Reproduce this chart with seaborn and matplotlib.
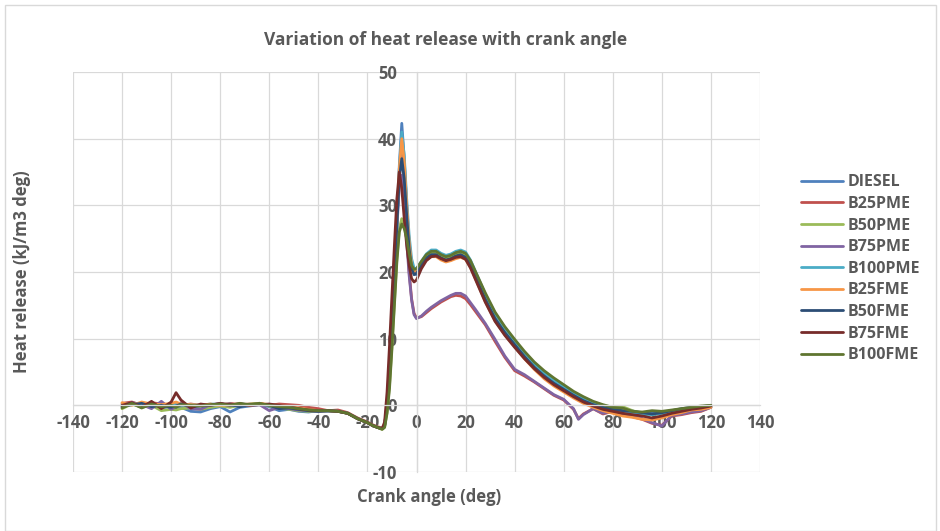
import numpy as np
import pandas as pd
import matplotlib
matplotlib.use('Agg')
import matplotlib.pyplot as plt
import seaborn as sns

# crank angle (deg) - finer steps around the combustion peak
crank_angle = [-120, -116, -112, -108, -104, -100, -98, -96, -92, -88, -84, -80, -76, -72,
               -68, -64, -60, -56, -52, -48, -44, -40, -36, -32, -28, -24,
               -20, -18, -16, -14, -13, -12, -11, -10, -9, -8, -7, -6, -5, -4, -3, -2, -1, 0,
               2, 4, 6, 8, 10, 12, 14, 16, 18, 20, 22, 24,
               28, 32, 36, 40, 44, 48, 52, 56, 60, 64, 66, 68, 72, 76, 80, 84, 88, 92,
               96, 100, 104, 108, 112, 116, 120]

# heat release (kJ/m3 deg)
diesel = [-0.3, 0.2, -0.2, 0.1, -0.4, -0.2, -0.6, -0.3, -0.9, -1.0, -0.5, -0.2, -1.0, -0.3,
          -0.1, 0.1, -0.2, -0.8, -0.6, -0.9, -1.0, -0.8, -0.9, -0.8, -1.2, -2.0,
          -2.6, -3.0, -3.3, -3.5, -3.0, 0.0, 5.5, 12.0, 19.0, 27.0, 36.0, 42.3, 37.0, 30.0, 24.5, 21.0, 19.8, 19.6,
          20.8, 22.0, 22.8, 22.9, 22.5, 22.2, 22.4, 22.8, 23.0, 22.6, 21.3, 19.6,
          16.2, 13.3, 11.2, 9.4, 7.6, 6.0, 4.7, 3.6, 2.6, 1.7, 1.3, 0.9, 0.3, -0.2, -0.5, -0.9, -0.8, -1.6,
          -1.0, -1.2, -1.0, -0.6, -0.5, -0.3, -0.2]
b25pme = [0.3, 0.5, 0.0, 0.4, 0.2, 0.1, 0.3, 0.0, 0.2, 0.0, 0.1, 0.0, 0.3, 0.1,
          0.2, 0.3, 0.0, 0.2, 0.1, 0.0, -0.3, -0.5, -0.8, -0.7, -1.1, -1.9,
          -2.5, -2.9, -3.2, -3.4, -2.9, 0.3, 6.0, 12.5, 19.5, 27.5, 35.0, 39.0, 33.0, 26.0, 20.0, 16.0, 13.8, 13.1,
          13.3, 13.9, 14.5, 15.0, 15.5, 15.9, 16.3, 16.5, 16.4, 16.0, 15.1, 14.1,
          12.1, 9.6, 7.2, 5.2, 4.4, 3.5, 2.5, 1.5, 0.8, -0.6, -2.0, -1.3, -0.5, -1.3, -0.9, -1.3, -1.7, -2.1,
          -2.7, -3.0, -1.6, -1.4, -1.1, -0.9, -0.3]
b50pme = [-0.5, 0.2, -0.3, 0.0, -0.8, -0.6, -0.7, -0.5, -0.4, -0.6, -0.3, -0.1, -0.3, 0.0,
          0.2, 0.3, -0.1, -0.4, -0.6, -0.8, -0.9, -0.9, -0.8, -0.9, -1.2, -2.0,
          -2.6, -3.0, -3.3, -3.6, -3.3, -1.0, 3.0, 9.0, 15.5, 22.0, 26.5, 28.0, 27.0, 25.5, 23.0, 21.0, 20.3, 20.4,
          21.4, 22.4, 22.9, 22.9, 22.4, 22.1, 22.3, 22.7, 22.9, 22.6, 21.5, 19.9,
          16.6, 13.8, 11.6, 9.7, 7.9, 6.3, 5.0, 3.9, 2.9, 1.9, 1.5, 1.1, 0.5, 0.0, -0.3, -0.2, -0.8, -1.2,
          -1.4, -1.2, -0.9, -0.6, -0.4, -0.2, -0.1]
b75pme = [-0.2, 0.4, 0.1, -0.5, 0.6, -0.6, -0.2, 0.4, -0.5, -0.6, 0.1, 0.3, -0.1, 0.3,
          0.0, 0.1, -0.8, -0.3, -0.5, -0.7, -0.8, -0.9, -0.8, -0.9, -1.2, -2.0,
          -2.6, -3.0, -3.3, -3.5, -3.1, 0.0, 5.5, 12.0, 19.0, 26.5, 33.0, 34.5, 30.0, 24.5, 19.5, 15.8, 13.6, 13.0,
          13.4, 14.1, 14.7, 15.2, 15.7, 16.1, 16.5, 16.8, 16.8, 16.4, 15.4, 14.4,
          12.3, 9.9, 7.4, 5.4, 4.6, 3.6, 2.6, 1.6, 0.9, -0.5, -2.1, -1.4, -0.5, -1.2, -0.8, -1.2, -1.6, -2.0,
          -2.6, -3.1, -1.5, -1.3, -1.0, -0.8, -0.3]
b100pme = [0.1, 0.3, 0.0, 0.2, 0.0, 0.1, 0.2, 0.0, 0.1, 0.0, 0.2, 0.1, 0.2, 0.0,
           0.1, 0.2, 0.0, -0.1, -0.3, -0.5, -0.7, -0.8, -0.8, -0.9, -1.2, -2.0,
           -2.6, -3.0, -3.3, -3.5, -3.1, 0.0, 5.5, 12.0, 19.0, 27.0, 35.5, 41.0, 37.5, 31.0, 25.5, 22.0, 20.6, 20.5,
           21.6, 22.7, 23.3, 23.3, 22.8, 22.5, 22.7, 23.1, 23.3, 23.0, 21.8, 20.1,
           16.7, 13.8, 11.6, 9.7, 7.9, 6.2, 4.9, 3.8, 2.8, 1.8, 1.4, 1.0, 0.4, -0.1, -0.4, -0.8, -1.1, -1.3,
           -1.4, -1.2, -0.9, -0.6, -0.4, -0.2, -0.1]
b25fme = [0.4, 0.0, 0.5, 0.2, 0.1, 0.3, 0.5, 0.2, 0.1, 0.0, 0.2, 0.0, 0.1, 0.2,
          0.0, 0.3, 0.1, 0.0, -0.2, -0.4, -0.6, -0.8, -0.8, -0.9, -1.2, -2.0,
          -2.6, -3.0, -3.3, -3.5, -3.0, 0.2, 6.0, 12.5, 19.5, 27.5, 35.5, 40.0, 36.5, 30.0, 24.5, 21.0, 20.0, 20.2,
          21.0, 21.8, 22.3, 22.3, 21.8, 21.5, 21.7, 22.0, 22.2, 21.9, 20.7, 19.0,
          15.6, 12.7, 10.6, 8.8, 7.0, 5.4, 4.0, 2.9, 2.0, 1.1, 0.7, 0.3, -0.3, -0.8, -1.2, -1.6, -1.8, -2.1,
          -2.2, -1.9, -1.4, -1.1, -0.7, -0.6, -0.3]
b50fme = [-0.2, 0.1, 0.3, -0.2, 0.0, -0.3, -0.1, 0.2, -0.2, -0.1, 0.0, 0.2, 0.1, -0.2,
          0.1, 0.2, 0.0, -0.5, -0.4, -0.6, -0.8, -0.9, -0.8, -0.9, -1.2, -2.0,
          -2.6, -3.0, -3.3, -3.5, -3.0, 0.0, 5.5, 12.0, 19.0, 27.0, 34.0, 37.0, 34.0, 28.5, 23.5, 20.5, 19.6, 19.8,
          21.0, 22.1, 22.6, 22.6, 22.1, 21.8, 22.0, 22.4, 22.6, 22.2, 21.0, 19.3,
          15.9, 13.0, 10.9, 9.1, 7.3, 5.7, 4.4, 3.3, 2.4, 1.5, 1.1, 0.7, 0.1, -0.3, -0.6, -0.8, -0.9, -1.1,
          -1.3, -1.1, -0.8, -0.5, -0.3, -0.2, 0.0]
b75fme = [0.0, 0.4, -0.3, 0.6, -0.5, 0.5, 1.9, 0.8, -0.4, 0.2, 0.0, 0.3, 0.1, 0.2,
          0.0, 0.1, 0.2, 0.0, -0.2, -0.5, -0.7, -0.8, -0.8, -0.9, -1.2, -2.0,
          -2.6, -3.0, -3.3, -3.5, -2.5, 2.0, 9.0, 16.5, 24.0, 31.0, 35.0, 32.5, 28.0, 24.0, 21.0, 19.0, 18.5, 18.8,
          20.5, 21.7, 22.3, 22.4, 22.0, 21.7, 21.9, 22.2, 22.3, 21.9, 20.6, 18.9,
          15.5, 12.6, 10.5, 8.7, 7.0, 5.5, 4.2, 3.1, 2.2, 1.3, 0.9, 0.5, -0.1, -0.6, -0.9, -1.2, -1.4, -1.6,
          -1.9, -1.6, -1.2, -0.9, -0.6, -0.4, -0.1]
b100fme = [-0.4, 0.3, -0.4, 0.2, -0.2, 0.0, -0.3, 0.1, 0.0, -0.1, 0.1, 0.2, 0.0, 0.3,
           0.1, 0.3, 0.0, -0.2, -0.3, -0.5, -0.7, -0.8, -0.8, -0.9, -1.2, -2.0,
           -2.6, -3.0, -3.3, -3.6, -3.3, -1.2, 2.5, 8.5, 15.0, 21.5, 26.0, 27.2, 26.5, 25.0, 22.8, 21.0, 20.4, 20.5,
           21.6, 22.6, 23.1, 23.1, 22.6, 22.3, 22.5, 22.9, 23.1, 22.8, 21.7, 20.1,
           16.9, 14.0, 11.8, 9.9, 8.1, 6.5, 5.2, 4.1, 3.1, 2.1, 1.7, 1.3, 0.6, 0.1, -0.3, -0.4, -0.9, -1.0,
           -0.8, -0.9, -0.7, -0.5, -0.3, -0.1, 0.0]

fuels = ['DIESEL', 'B25PME', 'B50PME', 'B75PME', 'B100PME', 'B25FME', 'B50FME', 'B75FME', 'B100FME']
series = [diesel, b25pme, b50pme, b75pme, b100pme, b25fme, b50fme, b75fme, b100fme]
colors = ['#4F81BD', '#C0504D', '#9BBB59', '#8064A2', '#4BACC6', '#F79646', '#2C4D75', '#772C2A', '#5F7530']

x_ticks = list(range(-140, 141, 20))
y_ticks = list(range(-10, 51, 10))

# long format table for seaborn
df = pd.concat([pd.DataFrame({'crank': crank_angle, 'hr': vals, 'fuel': name})
                for name, vals in zip(fuels, series)], ignore_index=True)

sns.set_theme(style='white')
plt.rcParams['font.family'] = ['Open Sans', 'DejaVu Sans']
plt.rcParams['axes.unicode_minus'] = False
grey = '#595959'

fig = plt.figure(figsize=(9.4, 5.31), dpi=100)
ax = fig.add_axes([73 / 940, 1 - 472 / 531, 687 / 940, 400 / 531])

sns.lineplot(data=df, x='crank', y='hr', hue='fuel', hue_order=fuels,
             palette=dict(zip(fuels, colors)), estimator=None, sort=False,
             linewidth=2.0, ax=ax)

ax.set_xlim(-140, 140)
ax.set_ylim(-10, 50)
ax.set_xticks(x_ticks)
ax.set_yticks(y_ticks)
ax.grid(True, color='#d9d9d9', linewidth=0.9)
ax.set_axisbelow(True)

# axes cross at zero like the spreadsheet chart
ax.spines['left'].set_position(('data', 0))
ax.spines['bottom'].set_position(('data', 0))
for s in ['top', 'right']:
    ax.spines[s].set_visible(False)
for s in ['left', 'bottom']:
    ax.spines[s].set_color('#d9d9d9')
    ax.spines[s].set_linewidth(0.9)

ax.tick_params(axis='y', length=0, pad=14, labelsize=12, labelcolor=grey)
ax.tick_params(axis='x', length=0, pad=6, labelsize=12, labelcolor=grey)
for lab in ax.get_xticklabels() + ax.get_yticklabels():
    lab.set_fontweight('bold')

ax.set_xlabel('Crank angle (deg)', fontsize=12, fontweight='bold', color=grey)
ax.set_ylabel('Heat release (kJ/m3 deg)', fontsize=12, fontweight='bold', color=grey)
ax.xaxis.set_label_coords(0.518, -0.04)
ax.yaxis.set_label_coords(-0.074, 0.5)
ax.yaxis.label.set_va('center')

fig.text(446 / 940, 1 - 40 / 531, 'Variation of heat release with crank angle',
         ha='center', va='center', fontsize=12.5, fontweight='bold', color=grey)

handles, labels = ax.get_legend_handles_labels()
ax.legend(handles, labels, loc='upper left', bbox_to_anchor=(795 / 940, 1 - 168 / 531),
          bbox_transform=fig.transFigure, frameon=False, fontsize=11.5,
          handlelength=2.6, handletextpad=0.3, labelspacing=0.35, borderaxespad=0)
for t in ax.get_legend().get_texts():
    t.set_fontweight('bold')
    t.set_color(grey)
for h in ax.get_legend().get_lines():
    h.set_linewidth(2.0)

# light chart border
fig.patches.append(plt.Rectangle((5 / 940, 0.0), 931 / 940, 1 - 5 / 531, transform=fig.transFigure,
                                 fill=False, edgecolor='#d9d9d9', linewidth=1.0))

fig.savefig('out.png', dpi=100)
